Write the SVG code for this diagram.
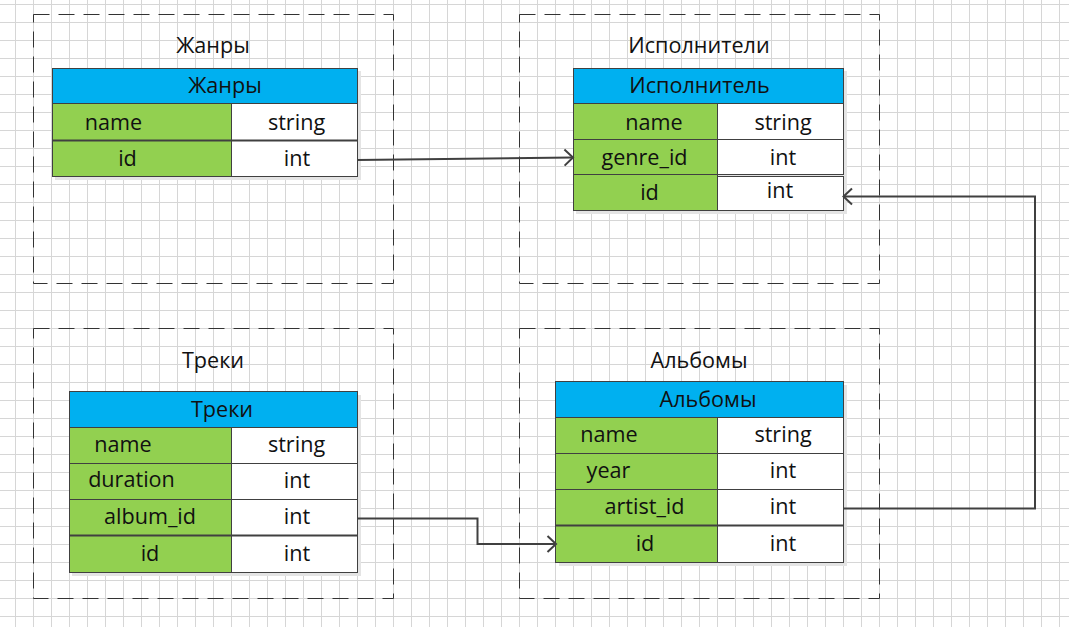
<svg xmlns="http://www.w3.org/2000/svg" width="1069" height="627" viewBox="0 0 1069 627">
<style>
text{font-family:"Open Sans","Noto Sans","DejaVu Sans",sans-serif;font-size:21.6px;fill:#111;text-anchor:middle}
.box{fill:none;stroke:#333;stroke-width:1;stroke-dasharray:16 9}
.hd{fill:#00B0F0;stroke:#404040;stroke-width:1}
.k{fill:#92D050;stroke:#404040;stroke-width:1}
.v{fill:#fff;stroke:#404040;stroke-width:1}
.sh{fill:#e4e4e4}
.con{fill:none;stroke:#404040;stroke-width:2;marker-end:url(#arr)}
</style>
<defs>
<pattern id="grid" patternUnits="userSpaceOnUse" x="15" y="4" width="18" height="18">
<rect x="0" y="0" width="18" height="1" fill="#d6d6d6"/>
<rect x="0" y="0" width="1" height="18" fill="#d6d6d6"/>
</pattern>
<marker id="arr" markerUnits="userSpaceOnUse" markerWidth="20" markerHeight="20" refX="10" refY="10" orient="auto" viewBox="0 0 20 20">
<path d="M1.5,2 L10,10 L1.5,18" fill="none" stroke="#404040" stroke-width="2"/>
</marker>
</defs>
<rect width="1069" height="627" fill="#fff"/>
<rect width="1069" height="627" fill="url(#grid)"/>

<g id="group-genres">
<rect class="box" x="33.5" y="14.5" width="360" height="269"/>
<text x="213" y="53">Жанры</text>
</g>
<g id="group-artists">
<rect class="box" x="519.5" y="14.5" width="360" height="269"/>
<text x="699" y="53">Исполнители</text>
</g>
<g id="group-tracks">
<rect class="box" x="33.5" y="328.5" width="360" height="270"/>
<text x="213" y="368">Треки</text>
</g>
<g id="group-albums">
<rect class="box" x="519.5" y="328.5" width="360" height="270"/>
<text x="699" y="368">Альбомы</text>
</g>

<g id="table-genres">
<rect class="sh" x="55" y="71" width="306" height="109"/>
<rect class="hd" x="52.5" y="68.5" width="305" height="35"/>
<rect class="k" x="52.5" y="103.5" width="179" height="37"/>
<rect class="v" x="231.5" y="103.5" width="126" height="37"/>
<rect class="k" x="52.5" y="140.5" width="179" height="36"/>
<rect class="v" x="231.5" y="140.5" width="126" height="36"/>
<line x1="52" y1="140.5" x2="358" y2="140.5" stroke="#404040" stroke-width="2"/>
<text x="225" y="93">Жанры</text>
<text x="113.5" y="129.5">name</text>
<text x="296.5" y="129.5">string</text>
<text x="127.5" y="166">id</text>
<text x="297" y="166">int</text>
</g>

<g id="table-artists">
<rect class="sh" x="576" y="71" width="271" height="143"/>
<rect class="hd" x="573.5" y="68.5" width="270" height="35"/>
<rect class="k" x="573.5" y="103.5" width="144" height="36"/>
<rect class="v" x="717.5" y="103.5" width="126" height="36"/>
<rect class="k" x="573.5" y="139.5" width="144" height="35"/>
<rect class="v" x="717.5" y="139.5" width="126" height="35"/>
<rect class="k" x="573.5" y="174.5" width="144" height="36"/>
<rect class="v" x="717.5" y="176.5" width="126" height="34"/>
<line x1="717" y1="174.5" x2="844" y2="174.5" stroke="#404040" stroke-width="1"/>
<text x="699.5" y="93">Исполнитель</text>
<text x="654" y="129.5">name</text>
<text x="783" y="129.5">string</text>
<text x="644.5" y="165">genre_id</text>
<text x="783" y="165">int</text>
<text x="649.5" y="199.5">id</text>
<text x="780" y="197.5">int</text>
</g>

<g id="table-tracks">
<rect class="sh" x="72" y="395" width="289" height="181"/>
<rect class="hd" x="69.5" y="391.5" width="288" height="36"/>
<rect class="k" x="69.5" y="427.5" width="162" height="36"/>
<rect class="v" x="231.5" y="427.5" width="126" height="36"/>
<rect class="k" x="69.5" y="463.5" width="162" height="36"/>
<rect class="v" x="231.5" y="463.5" width="126" height="36"/>
<rect class="k" x="69.5" y="499.5" width="162" height="36"/>
<rect class="v" x="231.5" y="499.5" width="126" height="36"/>
<rect class="k" x="69.5" y="535.5" width="162" height="37"/>
<rect class="v" x="231.5" y="535.5" width="126" height="37"/>
<line x1="69" y1="535.5" x2="358" y2="535.5" stroke="#404040" stroke-width="2"/>
<text x="222" y="417">Треки</text>
<text x="123" y="452">name</text>
<text x="296.5" y="452">string</text>
<text x="131.5" y="487">duration</text>
<text x="297" y="488">int</text>
<text x="150" y="524">album_id</text>
<text x="297" y="524">int</text>
<text x="150" y="560.5">id</text>
<text x="297" y="560.5">int</text>
</g>

<g id="table-albums">
<rect class="sh" x="559" y="385" width="288" height="181"/>
<rect class="hd" x="555.5" y="381.5" width="288" height="36"/>
<rect class="k" x="555.5" y="417.5" width="162" height="36"/>
<rect class="v" x="717.5" y="417.5" width="126" height="36"/>
<rect class="k" x="555.5" y="453.5" width="162" height="36"/>
<rect class="v" x="717.5" y="453.5" width="126" height="36"/>
<rect class="k" x="555.5" y="489.5" width="162" height="36"/>
<rect class="v" x="717.5" y="489.5" width="126" height="36"/>
<rect class="k" x="555.5" y="525.5" width="162" height="37"/>
<rect class="v" x="717.5" y="525.5" width="126" height="37"/>
<line x1="555" y1="525.5" x2="844" y2="525.5" stroke="#404040" stroke-width="2"/>
<text x="708" y="407">Альбомы</text>
<text x="609" y="442">name</text>
<text x="783" y="442">string</text>
<text x="608.5" y="478">year</text>
<text x="783" y="478">int</text>
<text x="644.5" y="514">artist_id</text>
<text x="783" y="514">int</text>
<text x="645" y="550.5">id</text>
<text x="783" y="550.5">int</text>
</g>

<g id="connectors">
<path class="con" d="M357,160 L573,157.5"/>
<path class="con" d="M357,518.5 H477.5 V544 H556"/>
<path class="con" d="M843,508.5 H1035 V196.5 H843.5"/>
</g>
</svg>
